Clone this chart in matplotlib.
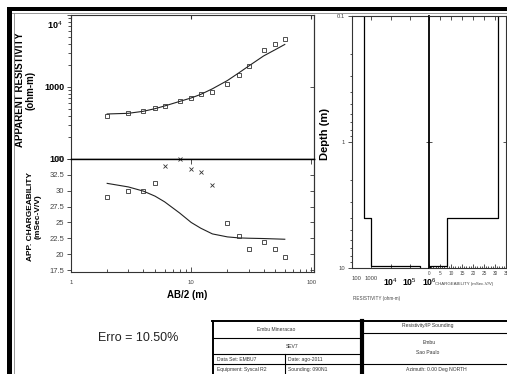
import matplotlib
matplotlib.use('Agg')
import matplotlib.pyplot as plt
from matplotlib.lines import Line2D
from matplotlib.patches import Rectangle
from matplotlib.transforms import ScaledTranslation
from matplotlib.ticker import NullLocator, FixedLocator, LogLocator, MultipleLocator

plt.rcParams['font.family'] = ['Liberation Sans', 'DejaVu Sans']
plt.rcParams['mathtext.fontset'] = 'custom'
plt.rcParams['mathtext.rm'] = 'Liberation Sans'
plt.rcParams['mathtext.bf'] = 'Liberation Sans:bold'

# ---------------- data ----------------
ab2 = [2, 3, 4, 5, 6, 8, 10, 12, 15, 20, 25, 30, 40, 50, 60]
rho_app = [392, 440, 464, 516, 550, 645, 697, 807, 861, 1101, 1483, 1977, 3266, 3955, 4597]
rho_model = [422, 431, 460, 500, 545, 630, 705, 790, 944, 1230, 1580, 1950, 2700, 3300, 3900]

ip_ab2_sq = [2, 3, 4, 5, 20, 25, 30, 40, 50, 60]
ip_sq = [29.0, 30.0, 30.0, 31.2, 24.9, 22.9, 20.9, 21.9, 20.9, 19.5]
ip_ab2_x = [6, 8, 10, 12, 15]
ip_x = [33.9, 35.0, 33.5, 32.9, 30.9]
ip_model = [31.16, 30.6, 29.94, 29.15, 28.26, 26.5, 25.0, 24.1, 23.2, 22.73, 22.57, 22.52, 22.47, 22.41, 22.36]

layer_rho = [420, 980, 340000]
layer_m = [31.4, 8.2, 0.5]
layer_bottoms = [4.0, 9.6]
depth_top, depth_bot = 0.1, 10

rho_ticks = [100, 1000, 1e4]
rho_ticklabels = ['100', '1000', r'$\mathbf{10}^{4}$']
ip_ticks = [17.5, 20, 22.5, 25, 27.5, 30, 32.5, 35]
ab_ticks = [1, 10, 100]
depth_ticks = [0.1, 1, 10]
mres_ticks = [100, 1000, 1e4, 1e5, 1e6]
mres_ticklabels = ['100', '1000', r'$\mathbf{10}^{4}$', r'$\mathbf{10}^{5}$', r'$\mathbf{10}^{6}$']
mip_ticks = [0, 5, 10, 15, 20, 25, 30, 35]

table_left = [["Embu Mineracao"], ["SEV7"],
              ["Data Set: EMBU7", "Date: ago-2011"],
              ["Equipment: Syscal R2", "Sounding: 090N1"]]
table_right = ["Resistivity/IP Sounding", "Embu", "Sao Paulo", "Azimuth: 0.00 Deg NORTH"]
erro_text = "Erro = 10.50%"

# ---------------- layout ----------------
W, H = 507, 374
fig = plt.figure(figsize=(W / 100, H / 100), dpi=100)


def fx(p):
    return p / W


def fy(p):
    return 1 - p / H


def box(l, t, r, b):
    return [fx(l), fy(b), fx(r) - fx(l), fy(t) - fy(b)]


def shift(artist, dx_px, dy_px):
    artist.set_transform(artist.get_transform() +
                         ScaledTranslation(dx_px / 100, dy_px / 100, fig.dpi_scale_trans))


SP = '#333333'
GR = '#444444'

ax_r = fig.add_axes(box(71, 15, 314, 159))
ax_c = fig.add_axes(box(71, 159, 314, 272))

for ax in (ax_r, ax_c):
    for s in ax.spines.values():
        s.set_color(SP)
        s.set_linewidth(0.8)

# upper: apparent resistivity
ax_r.set_xscale('log')
ax_r.set_yscale('log')
ax_r.set_xlim(1, 105)
ax_r.set_ylim(100, 1e4)
ax_r.plot(ab2, rho_model, color='#222222', lw=0.8)
ax_r.plot(ab2, rho_app, ls='none', marker='s', ms=3.0, mfc='none', mec='#333333', mew=0.6)
ax_r.set_yticks(rho_ticks)
ax_r.set_yticklabels(rho_ticklabels, fontsize=6.5, fontweight='bold')
ax_r.yaxis.set_minor_locator(LogLocator(base=10, subs=range(2, 10)))
ax_r.tick_params(axis='y', which='both', left=True, right=False, direction='out', color=SP, width=0.6)
ax_r.tick_params(axis='y', which='major', length=3, pad=2)
ax_r.tick_params(axis='y', which='minor', length=2, labelleft=False)
lab_top = ax_r.get_yticklabels()[-1]
lab_top.set_va('top')
shift(lab_top, -2, -4)
ax_r.tick_params(axis='x', which='both', bottom=False, labelbottom=False)
ax_r.tick_params(axis='x', which='major', top=True, direction='in', length=3, color=SP)
ax_r.tick_params(axis='x', which='minor', top=False)
ax_r.spines['bottom'].set_color('black')
ax_r.spines['bottom'].set_linewidth(1.0)
sec_r = ax_r.secondary_yaxis('right')
sec_r.set_yticks([1000])
sec_r.yaxis.set_minor_locator(NullLocator())
sec_r.tick_params(direction='in', length=3, labelright=False, color=SP, width=0.6)
sec_r.spines['right'].set_color(SP)
sec_r.spines['right'].set_linewidth(0.8)
ax_r.set_ylabel("APPARENT RESISTIVITY\n(ohm-m)", fontsize=7, fontweight='bold', linespacing=1.0)
ax_r.yaxis.set_label_coords(-0.148, 0.479)

# lower: apparent chargeability
ax_c.set_xscale('log')
ax_c.set_xlim(1, 105)
ax_c.set_ylim(17.2, 35)
ax_c.plot(ab2, ip_model, color='#222222', lw=0.8)
ax_c.plot(ip_ab2_sq, ip_sq, ls='none', marker='s', ms=3.0, mfc='none', mec='#333333', mew=0.6)
ax_c.plot(ip_ab2_x, ip_x, ls='none', marker='x', ms=3.0, mec='#333333', mew=0.6, clip_on=False)
ax_c.set_yticks(ip_ticks)
ax_c.set_yticklabels([f'{v:g}' for v in ip_ticks], fontsize=5.5, color=GR)
ax_c.tick_params(axis='y', which='both', left=True, right=False, direction='out', length=3,
                 color=SP, width=0.6, pad=2)
sec_c = ax_c.secondary_yaxis('right')
sec_c.set_yticks(ip_ticks)
sec_c.tick_params(direction='in', length=3, labelright=False, color=SP, width=0.6)
sec_c.spines['right'].set_color(SP)
sec_c.spines['right'].set_linewidth(0.8)
ax_c.set_xticks(ab_ticks)
ax_c.set_xticklabels([f'{v:g}' for v in ab_ticks], fontsize=4.3, color=GR)
ax_c.tick_params(axis='x', which='both', bottom=True, top=True, direction='in', color=SP, width=0.6)
ax_c.tick_params(axis='x', which='major', length=3.5, pad=6)
ax_c.tick_params(axis='x', which='minor', length=2, top=False)
ax_c.spines['top'].set_color('black')
ax_c.spines['top'].set_linewidth(1.0)
ax_c.set_ylabel("APP. CHARGEABILITY\n(mSec-V/V)", fontsize=6, fontweight='bold', linespacing=1.0)
ax_c.yaxis.set_label_coords(-0.122, 0.487)
ax_c.set_xlabel("AB/2 (m)", fontsize=7, fontweight='bold')
ax_c.xaxis.set_label_coords(0.477, -0.155)

# ---------------- layered model panels ----------------
ax_m1 = fig.add_axes(box(352, 16, 429, 268))
ax_m2 = fig.add_axes(box(429, 16, 506, 268))
for ax in (ax_m1, ax_m2):
    for s in ax.spines.values():
        s.set_color(SP)
        s.set_linewidth(0.8)
    ax.set_yscale('log')
    ax.set_ylim(depth_bot, depth_top)

step_y = [depth_top, layer_bottoms[0], layer_bottoms[0], layer_bottoms[1], layer_bottoms[1], depth_bot]
res_x = [layer_rho[0], layer_rho[0], layer_rho[1], layer_rho[1], layer_rho[2], layer_rho[2]]
ip_xs = [layer_m[0], layer_m[0], layer_m[1], layer_m[1], layer_m[2], layer_m[2]]

ax_m1.set_xscale('log')
ax_m1.set_xlim(100, 1e6)
ax_m1.plot(res_x, step_y, color='black', lw=0.9)
ax_m1.set_yticks(depth_ticks)
ax_m1.set_yticklabels(['0.1', '1', '10'], fontsize=4.2, color=GR)
ax_m1.yaxis.set_minor_locator(LogLocator(base=10, subs=range(2, 10)))
ax_m1.tick_params(axis='y', which='both', left=True, right=False, direction='out', color=SP, width=0.6, pad=2)
ax_m1.tick_params(axis='y', which='major', length=3)
ax_m1.tick_params(axis='y', which='minor', length=1.8)
ax_m1.set_xticks(mres_ticks)
ax_m1.set_xticklabels(mres_ticklabels)
mlabs = ax_m1.get_xticklabels()
for i, lab in enumerate(mlabs):
    if i < 2:
        lab.set_fontsize(4.2)
        lab.set_color(GR)
        shift(lab, 0, -4)
    else:
        lab.set_fontsize(6.3)
        shift(lab, -2, 0)
mlabs[0].set_ha('left')
mlabs[1].set_ha('center')
ax_m1.xaxis.set_minor_locator(LogLocator(base=10, subs=range(2, 10)))
ax_m1.tick_params(axis='x', which='both', bottom=True, top=True, direction='in', color=SP, width=0.6, pad=6)
ax_m1.tick_params(axis='x', which='major', length=3)
ax_m1.tick_params(axis='x', which='minor', length=1.5, top=False)
ax_m1.spines['right'].set_visible(False)
ax_m1.set_ylabel("Depth (m)", fontsize=8, fontweight='bold')
ax_m1.yaxis.set_label_coords(-0.29, 0.532)
ax_m1.set_xlabel("RESISTIVITY (ohm-m)", fontsize=3.3, color=GR)
ax_m1.xaxis.set_label_coords(0.32, -0.112)

ax_m2.set_xlim(0, 35)
ax_m2.plot(ip_xs, step_y, color='black', lw=0.9)
ax_m2.set_xticks(mip_ticks)
ax_m2.set_xticklabels([str(v) for v in mip_ticks], fontsize=3.4, color=GR)
ax_m2.xaxis.set_minor_locator(MultipleLocator(1))
ax_m2.tick_params(axis='x', which='both', bottom=True, top=True, direction='in', color=SP, width=0.6, pad=2)
ax_m2.tick_params(axis='x', which='major', length=3)
ax_m2.tick_params(axis='x', which='minor', length=1.5, top=False)
ax_m2.yaxis.set_major_locator(FixedLocator([1]))
ax_m2.yaxis.set_minor_locator(NullLocator())
ax_m2.tick_params(axis='y', which='major', left=True, right=True, direction='inout', length=4,
                  labelleft=False, color=SP, width=0.6)
ax_m2.spines['left'].set_color('black')
ax_m2.spines['left'].set_linewidth(1.3)
ax_m2.set_xlabel("CHARGEABILITY (mSec-V/V)", fontsize=3.2, color=GR)
ax_m2.xaxis.set_label_coords(0.455, -0.055)

# ---------------- frame ----------------
fig.add_artist(Rectangle((fx(8), fy(11)), fx(507) - fx(8), fy(7) - fy(11),
                         transform=fig.transFigure, color='black', lw=0))
fig.add_artist(Rectangle((fx(7), 0), fx(12) - fx(7), fy(7), transform=fig.transFigure, color='black', lw=0))
fig.add_artist(Line2D([fx(12), fx(507)], [fy(13), fy(13)], transform=fig.transFigure, color='#888888', lw=0.6))
fig.add_artist(Line2D([fx(13.5), fx(13.5)], [0, fy(13)], transform=fig.transFigure, color='#888888', lw=0.6))

fig.text(fx(138), fy(338), erro_text, fontsize=9, ha='center', va='center', color='#222222')

# ---------------- title block ----------------
def hline(y, x0, x1, lw=0.8):
    fig.add_artist(Line2D([fx(x0), fx(x1)], [fy(y), fy(y)], transform=fig.transFigure, color='black', lw=lw))


def vline(x, y0, y1, lw=0.8):
    fig.add_artist(Line2D([fx(x), fx(x)], [fy(y0), fy(y1)], transform=fig.transFigure, color='black', lw=lw))


hline(321, 212, 507, lw=1.4)
vline(213, 321, 374, lw=1.4)
vline(362, 321, 374, lw=3.0)
hline(338, 213, 362)
hline(354, 213, 362)
hline(364, 213, 362)
vline(285, 354, 374)
hline(333, 362, 507)
hline(364, 362, 507)

TS = 3.6
TC = '#333333'
fig.text(fx(276), fy(329.5), table_left[0][0], fontsize=TS, ha='center', va='center', color=TC)
fig.text(fx(292), fy(346.5), table_left[1][0], fontsize=TS, ha='center', va='center', color=TC)
fig.text(fx(217), fy(359.3), table_left[2][0], fontsize=TS, ha='left', va='center', color=TC)
fig.text(fx(288), fy(359.3), table_left[2][1], fontsize=TS, ha='left', va='center', color=TC)
fig.text(fx(217), fy(369.5), table_left[3][0], fontsize=TS, ha='left', va='center', color=TC)
fig.text(fx(288), fy(369.5), table_left[3][1], fontsize=TS, ha='left', va='center', color=TC)
fig.text(fx(428), fy(326), table_right[0], fontsize=TS, ha='center', va='center', color=TC)
fig.text(fx(429), fy(342), table_right[1], fontsize=TS, ha='center', va='center', color=TC)
fig.text(fx(428), fy(352.5), table_right[2], fontsize=TS, ha='center', va='center', color=TC)
fig.text(fx(436), fy(370), table_right[3], fontsize=TS, ha='center', va='center', color=TC)

fig.savefig('out.png', dpi=100)
